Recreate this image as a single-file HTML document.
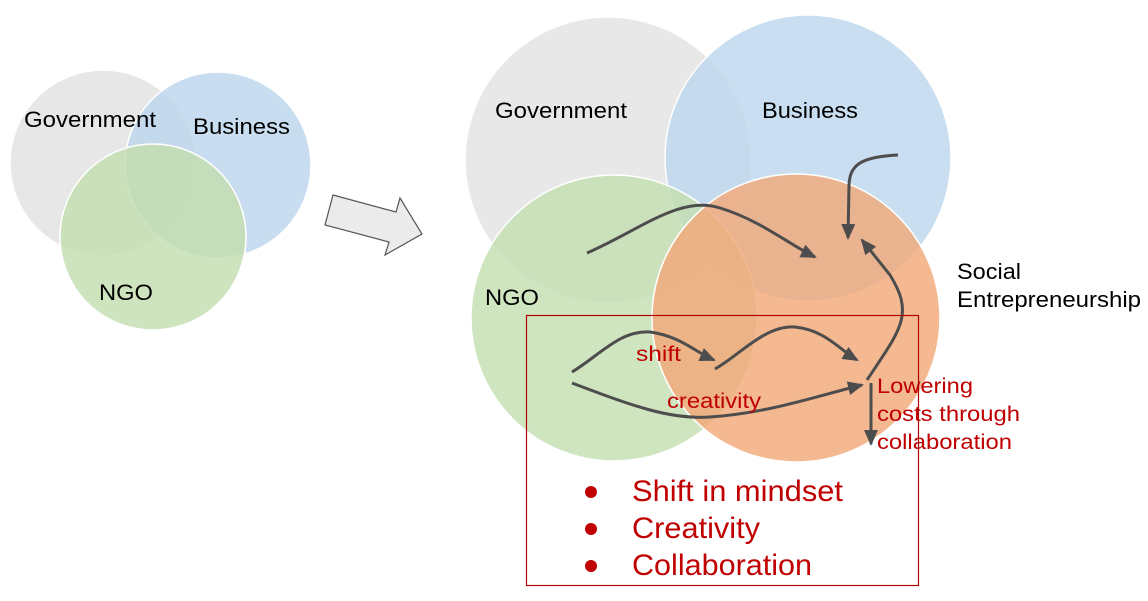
<!DOCTYPE html>
<html><head><style>
body{margin:0;background:#fff;}
svg{display:block;}
text{font-family:"Liberation Sans",sans-serif;}
</style></head><body>
<svg width="1148" height="601" viewBox="0 0 1148 601" xmlns="http://www.w3.org/2000/svg">
<defs>
<marker id="ah2" markerWidth="16" markerHeight="14" refX="14" refY="7" orient="auto" markerUnits="userSpaceOnUse" viewBox="0 0 16 14">
<path d="M0,0 L16,7 L0,14 z" fill="#4d4d4d"/>
</marker>
</defs>
<g stroke="#fff" stroke-width="1.5" fill-opacity="0.82">
<circle cx="103" cy="163" r="93" fill="#e2e2e2"/>
<circle cx="218" cy="165" r="93" fill="#bcd6ec"/>
<circle cx="153" cy="237" r="93" fill="#c3deb0"/>
</g>
<g font-size="22" lengthAdjust="spacingAndGlyphs">
<text x="24" y="127" textLength="132" lengthAdjust="spacingAndGlyphs">Government</text>
<text x="193" y="134" textLength="97" lengthAdjust="spacingAndGlyphs">Business</text>
<text x="99" y="300" textLength="54" lengthAdjust="spacingAndGlyphs">NGO</text>
</g>
<polygon points="333,195 396,212 400,198 422,234 385,255 389,242 325,225" fill="#ebebeb" stroke="#555" stroke-width="1.2"/>
<g stroke="#fff" stroke-width="1.5" fill-opacity="0.8">
<circle cx="608" cy="160" r="143" fill="#e2e2e2"/>
<circle cx="808" cy="158" r="143" fill="#bcd6ec"/>
<circle cx="614" cy="318" r="143" fill="#c3deb0"/>
<circle cx="796" cy="318" r="144" fill="#f3a877"/>
</g>
<g font-size="22">
<text x="495" y="118" textLength="132" lengthAdjust="spacingAndGlyphs">Government</text>
<text x="762" y="118" textLength="96" lengthAdjust="spacingAndGlyphs">Business</text>
<text x="485" y="305" textLength="54" lengthAdjust="spacingAndGlyphs">NGO</text>
<text x="957" y="279" textLength="64" lengthAdjust="spacingAndGlyphs">Social</text>
<text x="957" y="307" textLength="184" lengthAdjust="spacingAndGlyphs">Entrepreneurship</text>
</g>
<g fill="none" stroke="#4d4d4d" stroke-width="3">
<path d="M587,253 C640,230 680,195 720,208 C760,220 790,245 815,257" marker-end="url(#ah2)"/>
<path d="M898,155 C860,157 850,165 849,185 L848,238" marker-end="url(#ah2)"/>
<path d="M867,380 C900,330 915,315 890,275 L862,240" marker-end="url(#ah2)"/>
<path d="M572,372 C600,355 620,330 650,332 C680,336 695,352 714,360" marker-end="url(#ah2)"/>
<path d="M715,369 C740,355 765,325 795,327 C825,330 840,350 857,360" marker-end="url(#ah2)"/>
<path d="M572,383 C630,405 670,420 710,417 C770,413 820,395 862,385" marker-end="url(#ah2)"/>
<path d="M871,383 L871,444" marker-end="url(#ah2)"/>
</g>
<g font-size="21" fill="#c00000">
<text x="636" y="361" textLength="45" lengthAdjust="spacingAndGlyphs">shift</text>
<text x="667" y="408" textLength="94" lengthAdjust="spacingAndGlyphs">creativity</text>
<text x="877" y="393" textLength="96" lengthAdjust="spacingAndGlyphs">Lowering</text>
<text x="877" y="421" textLength="143" lengthAdjust="spacingAndGlyphs">costs through</text>
<text x="877" y="449" textLength="135" lengthAdjust="spacingAndGlyphs">collaboration</text>
</g>
<rect x="526.5" y="315.5" width="392" height="270" fill="none" stroke="#b00000" stroke-width="1.2"/>
<g fill="#c00000" font-size="30">
<circle cx="591" cy="492" r="6"/>
<circle cx="591" cy="529" r="6"/>
<circle cx="591" cy="566" r="6"/>
<text x="632" y="501" textLength="211" lengthAdjust="spacingAndGlyphs">Shift in mindset</text>
<text x="632" y="538" textLength="128" lengthAdjust="spacingAndGlyphs">Creativity</text>
<text x="632" y="575" textLength="180" lengthAdjust="spacingAndGlyphs">Collaboration</text>
</g>
</svg>
</body></html>
